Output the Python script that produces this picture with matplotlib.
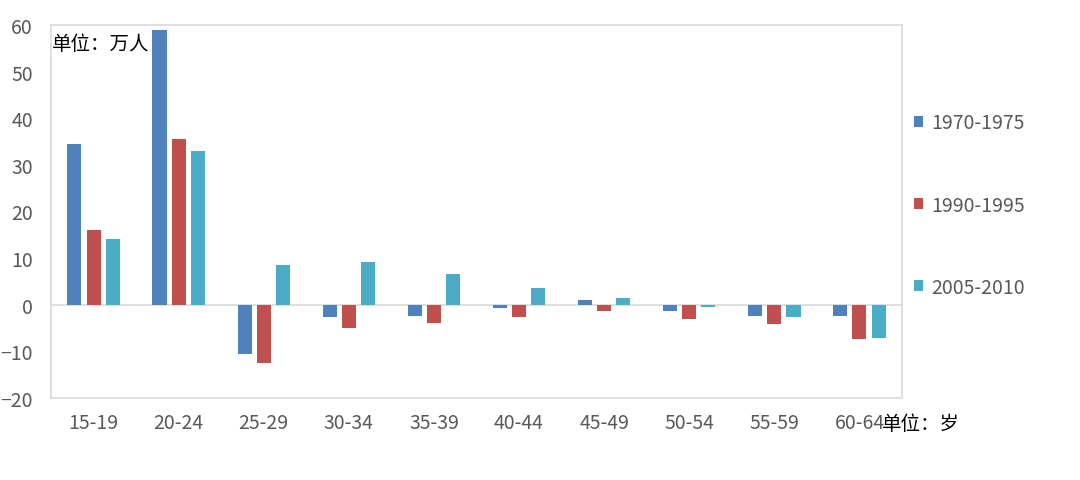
import matplotlib.pyplot as plt
import numpy as np

plt.rcParams['font.family'] = ['Noto Sans CJK SC', 'DejaVu Sans']

# 各年龄段人口变化（万人）
ages = ['15-19', '20-24', '25-29', '30-34', '35-39',
        '40-44', '45-49', '50-54', '55-59', '60-64']
s1970 = [34.4, 59.0, -10.6, -2.6, -2.4, -0.8, 1.0, -1.4, -2.5, -2.5]
s1990 = [16.0, 35.5, -12.4, -5.0, -4.0, -2.6, -1.4, -3.1, -4.2, -7.4]
s2005 = [14.0, 33.0, 8.6, 9.2, 6.6, 3.6, 1.4, -0.4, -2.7, -7.2]
labels = ['1970-1975', '1990-1995', '2005-2010']
colors = ['#4F81BD', '#C0504D', '#4BACC6']

fig = plt.figure(figsize=(10.8, 4.81), dpi=100)
ax = fig.add_axes([51 / 1080, 1 - 399 / 481, 851 / 1080, 373 / 481])

x = np.arange(len(ages))
w = 0.165
step = 0.225
for i, (vals, lab, c) in enumerate(zip([s1970, s1990, s2005], labels, colors)):
    ax.bar(x + (i - 1) * step, vals, width=w, color=c, label=lab)

ax.set_xlim(-0.5, len(ages) - 0.5)
ax.set_ylim(-20, 60)
ax.set_yticks(range(-20, 61, 10))
ax.set_xticks(x)
ax.set_xticklabels(ages)
ax.axhline(0, color='#D9D9D9', lw=1.2, zorder=0)

for sp in ax.spines.values():
    sp.set_color('#D9D9D9')
    sp.set_linewidth(1.2)
ax.tick_params(length=0, labelsize=14, colors='#595959')
ax.tick_params(axis='x', pad=10)
ax.tick_params(axis='y', pad=13)

ax.text(0.001, 0.95, '单位：万人', transform=ax.transAxes, fontsize=14,
        ha='left', va='center', color='black')
fig.text(882 / 1080, 1 - 424 / 481, '单位：岁', fontsize=14,
         ha='left', va='center', color='black')

leg = fig.legend(loc='center left', bbox_to_anchor=(896 / 1080, 1 - 206 / 481),
                 frameon=False, fontsize=14, handlelength=0.5, handleheight=0.5,
                 handletextpad=0.4, labelspacing=3.15)
for t in leg.get_texts():
    t.set_color('#595959')

fig.savefig('out.png', dpi=100)
